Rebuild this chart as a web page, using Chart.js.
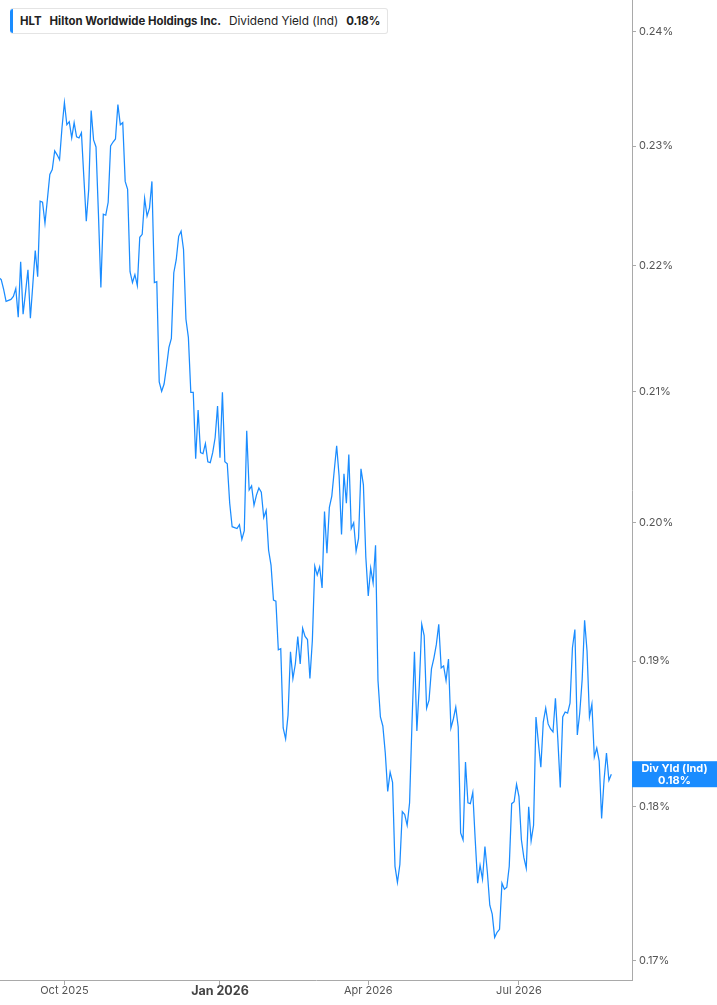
<!DOCTYPE html>
<html>
<head>
<meta charset="utf-8">
<script src="https://cdn.jsdelivr.net/npm/chart.js@4.4.1/dist/chart.umd.min.js"></script>
<style>
  html, body { margin: 0; padding: 0; background: #fff; }
  #wrap { position: relative; width: 717px; height: 1005px; }
  #legend {
    position: absolute; left: 10px; top: 8px; height: 24px;
    border: 1px solid #e4e4e4; border-left: none; border-radius: 3px;
    background: #fff; font-family: Inter, "Noto Sans", sans-serif; font-size: 11.8px;
    color: #222; line-height: 24px; padding: 0 7px 0 10px; white-space: nowrap;
  }
  #legend::before {
    content: ""; position: absolute; left: 0; top: 0; bottom: 0; width: 3px;
    background: #1a8cff; border-radius: 3px 0 0 3px;
  }
  #legend b { font-weight: 700; font-size: 11.4px; }
  #legend span { margin-right: 8px; }
</style>
</head>
<body>
<div id="wrap">
  <canvas id="yieldChart" width="717" height="1005"></canvas>
  <div id="legend"><span><b>HLT</b></span><span><b>Hilton Worldwide Holdings Inc.</b></span><span>Dividend Yield (Ind)</span><b>0.18%</b></div>
</div>
<script>
// --- DATA ---
const startDate = '2025-08-22';
const holidays = ['2025-09-01', '2025-11-27', '2025-12-25', '2026-01-01', '2026-01-19',
                  '2026-02-16', '2026-04-03', '2026-05-25', '2026-06-19', '2026-07-03'];

// dividend yield (%) per trading day
const dividendYield = [
  0.21904, 0.21888, 0.21808, 0.21712, 0.21720, 0.21728, 0.21752, 0.21816, 0.21584, 0.22034,
  0.21608, 0.21784, 0.21968, 0.21576, 0.21848, 0.22125, 0.21912, 0.22534, 0.22525, 0.22350,
  0.22550, 0.22758, 0.22800, 0.22958, 0.22925, 0.22883, 0.23156, 0.23374, 0.23182, 0.23208,
  0.23069, 0.23200, 0.23078, 0.23069, 0.23113, 0.22733, 0.22367, 0.22633, 0.23304, 0.23052,
  0.22992, 0.22425, 0.21824, 0.22425, 0.22417, 0.22525, 0.23000, 0.23034, 0.23060, 0.23356,
  0.23182, 0.23200, 0.22700, 0.22633, 0.21952, 0.21864, 0.21928, 0.21840, 0.22234, 0.22259,
  0.22558, 0.22409, 0.22475, 0.22700, 0.21864, 0.21872, 0.21072, 0.21000, 0.21056, 0.21192,
  0.21344, 0.21416, 0.21944, 0.22050, 0.22242, 0.22284, 0.22134, 0.21568, 0.21424, 0.20992,
  0.20992, 0.20481, 0.20855, 0.20527, 0.20519, 0.20596, 0.20458, 0.20451, 0.20527, 0.20641,
  0.20886, 0.20489, 0.20992, 0.20458, 0.20443, 0.20145, 0.19971, 0.19964, 0.19957, 0.19986,
  0.19877, 0.19942, 0.20695, 0.20245, 0.20275, 0.20130, 0.20206, 0.20260, 0.20229, 0.20039,
  0.20092, 0.19797, 0.19688, 0.19435, 0.19427, 0.19079, 0.19087, 0.18534, 0.18459, 0.18623,
  0.19065, 0.18877, 0.18979, 0.19174, 0.18979, 0.19232, 0.19174, 0.19152, 0.18877, 0.19145,
  0.19681, 0.19616, 0.19674, 0.19522, 0.20084, 0.19775, 0.20115, 0.20199, 0.20390, 0.20580,
  0.20351, 0.19913, 0.20367, 0.20145, 0.20512, 0.19957, 0.20000, 0.19790, 0.19884, 0.20405,
  0.20283, 0.19746, 0.19464, 0.19667, 0.19558, 0.19833, 0.18863, 0.18610, 0.18548, 0.18363,
  0.18103, 0.18233, 0.18164, 0.17607, 0.17503, 0.17619, 0.17968, 0.17948, 0.17877, 0.18027,
  0.18575, 0.19065, 0.18514, 0.18829, 0.19261, 0.19181, 0.18671, 0.18726, 0.18945, 0.19021,
  0.19116, 0.19261, 0.18952, 0.18966, 0.18863, 0.19014, 0.18534, 0.18596, 0.18678, 0.18541,
  0.17826, 0.17781, 0.18301, 0.18027, 0.18021, 0.18096, 0.17781, 0.17497, 0.17613, 0.17523,
  0.17736, 0.17568, 0.17355, 0.17297, 0.17149, 0.17181, 0.17200, 0.17497, 0.17458, 0.17471,
  0.17607, 0.18021, 0.18034, 0.18151, 0.18068, 0.17781, 0.17665, 0.17594, 0.18000, 0.17774,
  0.17877, 0.18610, 0.18431, 0.18267, 0.18575, 0.18671, 0.18562, 0.18527, 0.18507, 0.18740,
  0.18452, 0.18130, 0.18610, 0.18644, 0.18637, 0.18705, 0.19094, 0.19224, 0.18486, 0.18637,
  0.18870, 0.19290, 0.19072, 0.18610, 0.18699, 0.18336, 0.18397, 0.18308, 0.17923, 0.18178,
  0.18363, 0.18178, 0.18219
];

const tickLabels = ['Oct 2025', 'Jan 2026', 'Apr 2026', 'Jul 2026'];
const tickDates = ['2025-10-01', '2026-01-02', '2026-04-01', '2026-07-01'];
const yTicks = [0.17, 0.18, 0.19, 0.20, 0.21, 0.22, 0.23, 0.24];

// trading day calendar
const dates = [];
let d = new Date(startDate + 'T00:00:00Z');
while (dates.length < dividendYield.length) {
    const iso = d.toISOString().slice(0, 10);
    const wd = d.getUTCDay();
    if (wd !== 0 && wd !== 6 && !holidays.includes(iso)) dates.push(iso);
    d.setUTCDate(d.getUTCDate() + 1);
}
const tickIdx = tickDates.map(t => dates.indexOf(t));

const lineBlue = '#1a8cff';
const axisGrey = '#a9a9a9';

// last value tag on the right axis
const lastValueTag = {
    id: 'lastValueTag',
    afterDraw(chart) {
        const ctx = chart.ctx;
        const y = chart.scales.y.getPixelForValue(dividendYield[dividendYield.length - 1]);
        const left = chart.chartArea.right;
        const w = chart.width - left;
        ctx.save();
        ctx.fillStyle = lineBlue;
        ctx.fillRect(left, y - 13, w, 26);
        ctx.fillStyle = '#fff';
        ctx.font = 'bold 11px Inter, "Noto Sans", sans-serif';
        ctx.textAlign = 'center';
        ctx.textBaseline = 'middle';
        ctx.fillText('Div Yld (Ind)', left + w / 2, y - 6);
        ctx.fillText('0.18%', left + w / 2, y + 6);
        ctx.restore();
    }
};

new Chart(document.getElementById('yieldChart'), {
    type: 'line',
    data: {
        datasets: [{
            label: 'Dividend Yield (Ind)',
            data: dividendYield.map((v, i) => ({ x: i, y: v })),
            borderColor: lineBlue,
            borderWidth: 1.25,
            pointRadius: 0,
            tension: 0,
            fill: false
        }]
    },
    options: {
        responsive: false,
        animation: false,
        devicePixelRatio: 1,
        layout: { padding: 0 },
        plugins: { legend: { display: false }, tooltip: { enabled: false } },
        scales: {
            x: {
                type: 'linear',
                min: 0.5,
                max: 260.5,
                afterBuildTicks: s => { s.ticks = tickIdx.map(v => ({ value: v })); },
                afterFit: s => { s.height = 25; s.paddingLeft = 0; s.paddingRight = 0; },
                grid: { drawOnChartArea: false, drawTicks: true, tickLength: 5, color: axisGrey },
                border: { display: true, color: axisGrey, width: 1 },
                ticks: {
                    padding: -1,
                    maxRotation: 0,
                    callback: v => tickLabels[tickIdx.indexOf(v)],
                    color: c => (c.tick && c.tick.value === tickIdx[1]) ? '#444' : '#555',
                    font: c => (c.tick && c.tick.value === tickIdx[1])
                        ? { family: 'Inter', size: 12.5, weight: 'bold' }
                        : { family: 'Inter', size: 11 }
                }
            },
            y: {
                type: 'logarithmic',
                position: 'right',
                min: 0.1688,
                max: 0.2428,
                afterBuildTicks: s => { s.ticks = yTicks.map(v => ({ value: v })); },
                afterFit: s => { s.width = 85; s.paddingTop = 0; s.paddingBottom = 0; },
                grid: { drawOnChartArea: false, drawTicks: true, tickLength: 4, color: axisGrey },
                border: { display: true, color: axisGrey, width: 1 },
                ticks: {
                    padding: 3,
                    color: '#555',
                    font: { family: 'Inter', size: 11 },
                    callback: v => v.toFixed(2) + '%'
                }
            }
        }
    },
    plugins: [lastValueTag]
});
</script>
</body>
</html>
